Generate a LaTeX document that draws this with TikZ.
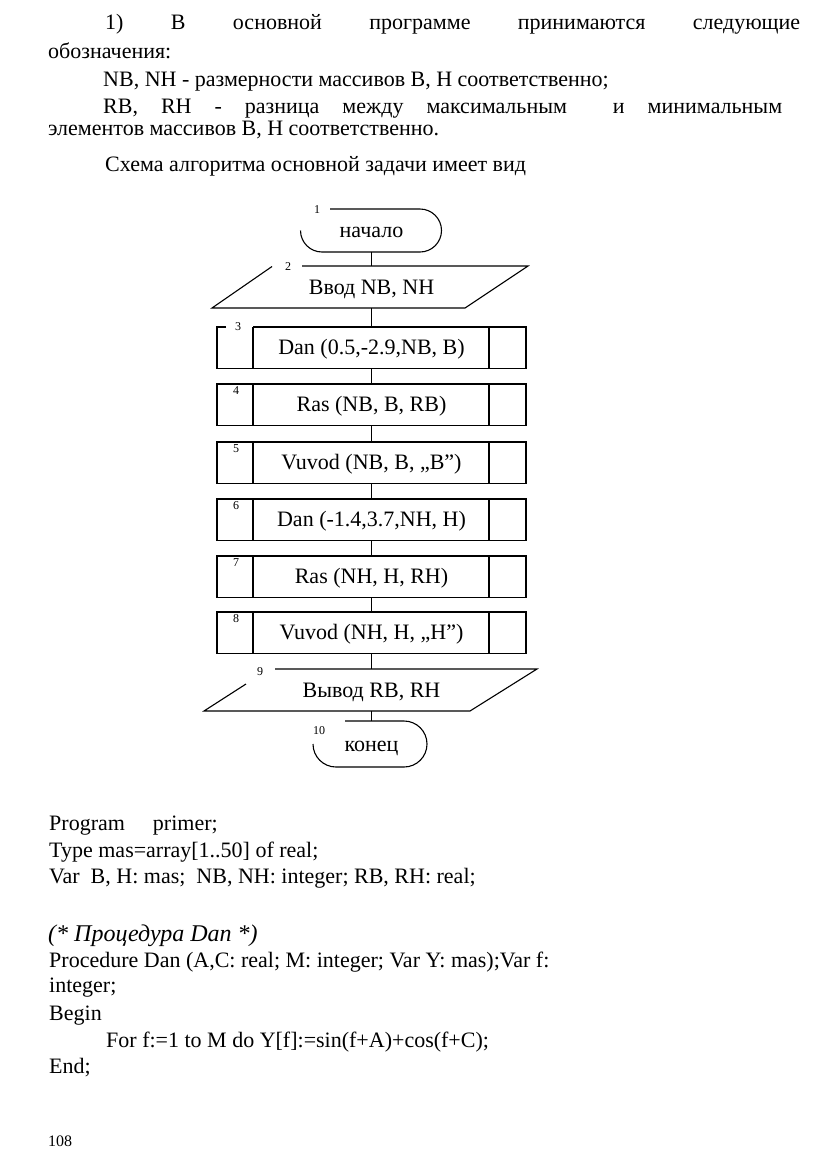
\documentclass[tikz,border=0pt]{standalone}
\usepackage{fontspec}
\setmainfont{Liberation Serif}
\begin{document}
\begin{tikzpicture}[x=1pt,y=-1pt,
  ln/.style={line width=1.1pt},
  txt/.style={anchor=base west, inner sep=0pt, font=\fontsize{22}{26}\selectfont},
  lbl/.style={inner sep=0pt, font=\fontsize{12}{14}\selectfont},
  blk/.style={inner sep=0pt, minimum height=41.5pt, text height=16pt, text depth=2pt, font=\fontsize{22}{26}\selectfont},
  term/.style={inner sep=0pt, text height=16pt, text depth=2pt, font=\fontsize{22}{26}\selectfont}]
\useasboundingbox[fill=white] (0,0) rectangle (816,1154);

% ---------- top text ----------
\node[txt] (t1) at (105,29) {\makebox[695pt][s]{1) В основной программе принимаются следующие}};
\node[txt] (t2) at (48,58) {обозначения:};
\node[txt] (t3) at (103,86) {NB, NH - размерности массивов B, H соответственно;};
\node[txt] (t4) at (103,113) {\makebox[679pt][s]{RB, RH - разница между максимальным\ \ и минимальным}};
\node[txt] (t5) at (48,135) {элементов массивов B, H соответственно.};
\node[txt] (t6) at (105,171) {Схема алгоритма основной задачи имеет вид};

% ---------- flowchart nodes ----------
\node[term, minimum height=43pt] (n1) at (371.5,230.5) {начало};
\node[term, minimum height=42pt] (n2) at (371.5,287) {Ввод NB, NH};
\node[blk] (b3) at (371.5,347.75) {Dan (0.5,-2.9,NB, B)};
\node[blk] (b4) at (371.5,404.75) {Ras (NB, B, RB)};
\node[blk] (b5) at (371.5,462.75) {Vuvod (NB, B, „B”)};
\node[blk] (b6) at (371.5,519.75) {Dan (-1.4,3.7,NH, H)};
\node[blk] (b7) at (371.5,576.75) {Ras (NH, H, RH)};
\node[blk] (b8) at (371.5,632.75) {Vuvod (NH, H, „H”)};
\node[term, minimum height=42pt] (n9) at (371.5,690) {Вывод RB, RH};
\node[term, minimum height=46pt] (n10) at (371.5,744) {конец};

% terminator 1
\draw[ln] (330,209) -- (420,209) arc[start angle=-90, end angle=90, radius=21.5]
  -- (322,252) arc[start angle=90, end angle=180, radius=21.5];
\node[lbl] (l1) at (317,210) {1};
% parallelogram 2
\draw[ln] (302,266) -- (528,266) -- (465,308) -- (212,308) -- (272,266.5);
\node[lbl] (l2) at (288,267) {2};
% box 3 (broken top)
\draw[ln] (226,327) -- (217,327) -- (217,368.5) -- (526,368.5) -- (526,327) -- (253,327);
\draw[ln] (253,327) -- (253,368.5) (489,327) -- (489,368.5);
\node[lbl] (l3) at (238,327) {3};
% boxes 4..8
\foreach \t/\k in {384/4, 442/5, 499/6, 556/7, 612/8}{
  \draw[ln] (217,\t) rectangle (526,\t+41.5);
  \draw[ln] (253,\t) -- (253,\t+41.5) (489,\t) -- (489,\t+41.5);
  \node[lbl] at (236,\t+7) {\k};
}
% parallelogram 9
\draw[ln] (275,669) -- (537,669) -- (470,711) -- (204,711) -- (246,684);
\node[lbl] (l9) at (260,672) {9};
% terminator 10
\draw[ln] (345,721) -- (404,721) arc[start angle=-90, end angle=90, radius=23]
  -- (336,767) arc[start angle=90, end angle=180, radius=23];
\node[lbl] (l10) at (319,731) {10};

% connectors
\draw[ln] (n1.south) -- (n2.north);
\draw[ln] (n2.south) -- (b3.north);
\draw[ln] (b3.south) -- (b4.north);
\draw[ln] (b4.south) -- (b5.north);
\draw[ln] (b5.south) -- (b6.north);
\draw[ln] (b6.south) -- (b7.north);
\draw[ln] (b7.south) -- (b8.north);
\draw[ln] (b8.south) -- (n9.north);
\draw[ln] (n9.south) -- (n10.north);

% ---------- code ----------
\node[txt] (c1) at (49,830) {Program\hspace{28pt}primer;};
\node[txt] (c2) at (49,857) {Type mas=array[1..50] of real;};
\node[txt] (c3) at (49,883) {Var\ \ B, H: mas;\ \ NB, NH: integer; RB, RH: real;};
\node[txt, font=\fontsize{24}{28}\selectfont\itshape] (c4) at (48,941) {(* Процедура Dan *)};
\node[txt] (c5) at (49,967) {Procedure Dan (A,C: real; M: integer; Var Y: mas);Var f:};
\node[txt] (c6) at (49,992) {integer;};
\node[txt] (c7) at (49,1020) {Begin};
\node[txt] (c8) at (106,1047) {For f:=1 to M do Y[f]:=sin(f+A)+cos(f+C);};
\node[txt] (c9) at (49,1073) {End;};
\node[txt, font=\fontsize{16}{18}\selectfont] (pg) at (48,1146) {108};
\end{tikzpicture}
\end{document}
